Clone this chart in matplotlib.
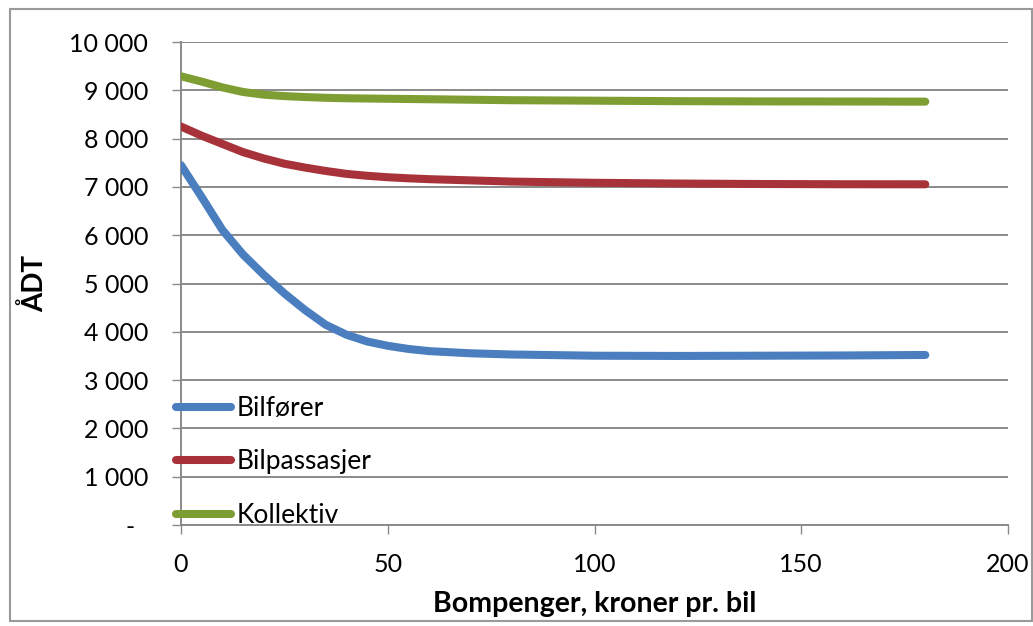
import matplotlib
matplotlib.use("Agg")
import matplotlib.pyplot as plt
from matplotlib.patches import Rectangle
from matplotlib.transforms import ScaledTranslation

# Data
x_vals = [0, 5, 10, 15, 20, 25, 30, 35, 40, 45, 50, 55, 60, 70, 80, 100, 120, 140, 160, 180]
bilforer = [7450, 6790, 6110, 5600, 5180, 4795, 4450, 4145, 3940, 3800, 3710, 3645, 3600,
            3555, 3530, 3505, 3500, 3505, 3510, 3520]
bilpassasjer = [8250, 8060, 7890, 7720, 7590, 7480, 7400, 7330, 7270, 7230, 7200, 7178, 7160,
                7135, 7110, 7085, 7070, 7060, 7055, 7054]
kollektiv = [9290, 9180, 9060, 8965, 8910, 8880, 8860, 8845, 8835, 8830, 8825, 8820, 8815,
             8805, 8795, 8785, 8775, 8770, 8768, 8765]
series_names = ["Bilfører", "Bilpassasjer", "Kollektiv"]
series_colors = ["#4A7EBF", "#A8323A", "#7E9E33"]
y_ticks = [0, 1000, 2000, 3000, 4000, 5000, 6000, 7000, 8000, 9000, 10000]
x_ticks = [0, 50, 100, 150, 200]
x_label = "Bompenger, kroner pr. bil"
y_label = "ÅDT"

plt.rcParams['font.family'] = ['Lato', 'DejaVu Sans']

W, H = 1033, 626
fig = plt.figure(figsize=(W / 100, H / 100), dpi=100)
ax = fig.add_axes([181 / W, 1 - 525 / H, (1008 - 181) / W, (525 - 42) / H])

grid_c = "#8A8A8A"
for ys, name, c in zip([bilforer, bilpassasjer, kollektiv], series_names, series_colors):
    ax.plot(x_vals, ys, color=c, lw=5.8, solid_capstyle='round', solid_joinstyle='round',
            label=name, zorder=3)

ax.set_xlim(0, 200)
ax.set_ylim(0, 10000)
ax.set_xticks(x_ticks)
ax.set_yticks(y_ticks)
ax.set_xticklabels([str(v) for v in x_ticks])
ax.set_yticklabels(["-"] + [f"{v:,}".replace(",", " ") for v in y_ticks[1:]])
ax.yaxis.grid(True, color=grid_c, lw=1.4)
ax.set_axisbelow(True)
for s in ['top', 'right']:
    ax.spines[s].set_visible(False)
for s in ['left', 'bottom']:
    ax.spines[s].set_color(grid_c)
    ax.spines[s].set_linewidth(1.4)
ax.tick_params(axis='y', direction='out', length=6.5, width=1.0, color=grid_c,
               pad=17, labelsize=18, labelcolor='black')
ax.tick_params(axis='x', direction='out', length=6.5, width=1.0, color=grid_c,
               pad=14, labelsize=18, labelcolor='black')

ax.set_xlabel(x_label, fontsize=20.5, fontweight='bold', labelpad=10.5)
ax.set_ylabel(y_label, fontsize=20, fontweight='bold', labelpad=15)

leg = ax.legend(loc='center left', bbox_to_anchor=(176 / W, 1 - 462 / H),
                bbox_transform=fig.transFigure, frameon=False, fontsize=19,
                handlelength=2.1, handletextpad=0.2, labelspacing=1.08,
                borderpad=0, borderaxespad=0)

# Figure border
fig.patches.append(Rectangle((10 / W, 1 - 621 / H), (1032 - 10) / W, (621 - 9) / H,
                             transform=fig.transFigure, fill=False,
                             edgecolor="#9A9A9A", lw=1.5))

# shift the "-" label left like Excel accounting format
lab0 = ax.get_yticklabels()[0]
lab0.set_transform(lab0.get_transform() + ScaledTranslation(-14 / 100, 0, fig.dpi_scale_trans))

fig.savefig("out.png", dpi=100)
